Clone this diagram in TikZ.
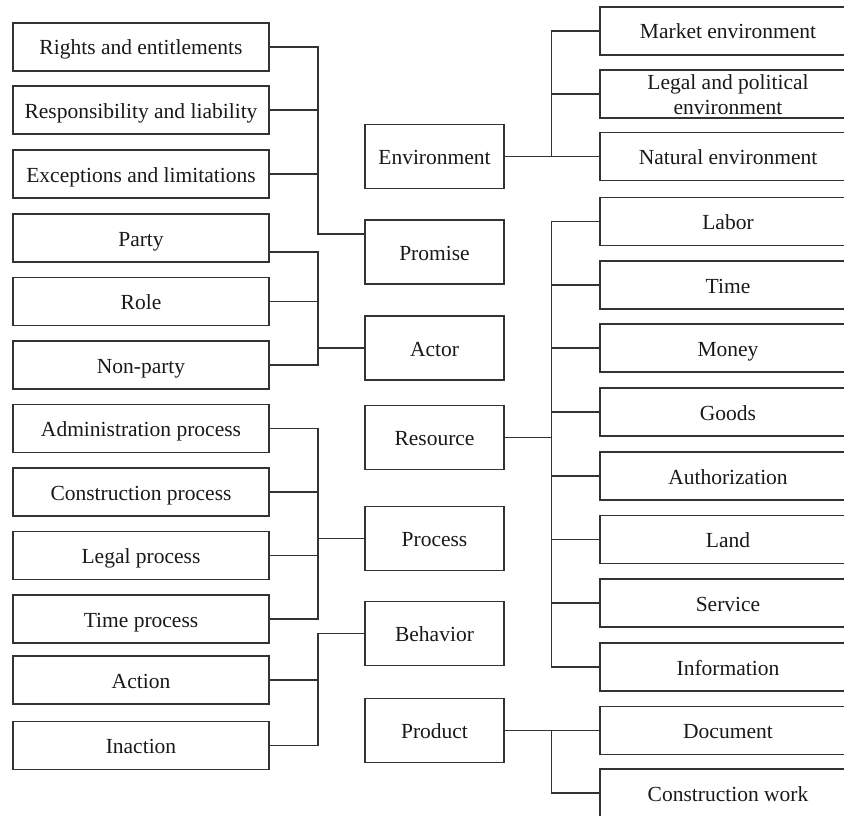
\documentclass[tikz,border=0pt]{standalone}
\usepackage{fontspec}
\setmainfont{Liberation Serif}
\begin{document}
\begin{tikzpicture}[x=1pt,y=-1pt,
  every node/.style={font=\fontsize{21.5}{25}\selectfont, text=black!90},
  boxbase/.style={draw=black!80, line width=1.5pt, inner sep=0pt, align=center, text height=16pt, text depth=0pt},
  lbox/.style={boxbase, minimum width=256pt, minimum height=48pt},
  mbox/.style={boxbase, minimum width=139pt, minimum height=64pt},
  conn/.style={draw=black!80, line width=1.5pt}]
\useasboundingbox (0,0) rectangle (844,816);
\clip (0,0) rectangle (844,816);
% left column
\node[lbox] (rights)   at (141,47)    {Rights and entitlements};
\node[lbox] (resp)     at (141,110)   {Responsibility and liability};
\node[lbox] (exc)      at (141,174)   {Exceptions and limitations};
\node[lbox] (party)    at (141,238)   {Party};
\node[lbox] (role)     at (141,301.5) {Role};
\node[lbox] (nonparty) at (141,365)   {Non-party};
\node[lbox] (admin)    at (141,428.5) {Administration process};
\node[lbox] (constr)   at (141,492)   {Construction process};
\node[lbox] (legal)    at (141,555.5) {Legal process};
\node[lbox] (timep)    at (141,619)   {Time process};
\node[lbox] (action)   at (141,680)   {Action};
\node[lbox] (inaction) at (141,745.5) {Inaction};
% middle column
\node[mbox] (env)      at (434.5,156.5) {Environment};
\node[mbox] (promise)  at (434.5,252)   {Promise};
\node[mbox] (actor)    at (434.5,348)   {Actor};
\node[mbox] (resource) at (434.5,437.5) {Resource};
\node[mbox] (process)  at (434.5,538.5) {Process};
\node[mbox] (behavior) at (434.5,633.5) {Behavior};
\node[mbox] (product)  at (434.5,730.5) {Product};
% right column
\node[lbox] (market)   at (728,31)    {Market environment};
\node[lbox, text height=41pt] (legalpol) at (728,94) {Legal and political\\environment};
\node[lbox] (natural)  at (728,156.5) {Natural environment};
\node[lbox] (labor)    at (728,221.5) {Labor};
\node[lbox] (time)     at (728,285)   {Time};
\node[lbox] (money)    at (728,348)   {Money};
\node[lbox] (goods)    at (728,412)   {Goods};
\node[lbox] (auth)     at (728,476)   {Authorization};
\node[lbox] (land)     at (728,539.5) {Land};
\node[lbox] (service)  at (728,603)   {Service};
\node[lbox] (info)     at (728,667)   {Information};
\node[lbox] (document) at (728,730.5) {Document};
\node[lbox] (cwork)    at (728,793)   {Construction work};
% Promise group
\draw[conn] (rights.east) -- ++(48,0) coordinate (a) |- ([yshift=18pt]promise.west);
\draw[conn] (resp.east) -- ++(48,0);
\draw[conn] (exc.east) -- ++(48,0);
% Actor group
\draw[conn] ([yshift=-14pt]party.east) -- ++(48,0) coordinate (b) |- (nonparty.east);
\draw[conn] (role.east) -- ++(48,0);
\draw[conn] (actor.west) -- (actor.west -| b);
% Process group
\draw[conn] (admin.east) -- ++(48,0) coordinate (c) |- (timep.east);
\draw[conn] (constr.east) -- ++(48,0);
\draw[conn] (legal.east) -- ++(48,0);
\draw[conn] (process.west) -- (process.west -| c);
% Behavior group
\draw[conn] (inaction.east) -- ++(48,0) coordinate (d) |- (behavior.west);
\draw[conn] (action.east) -- ++(48,0);
% Environment group
\draw[conn] (market.west) -- ++(-48,0) coordinate (e) |- (natural.west);
\draw[conn] (legalpol.west) -- ++(-48,0);
\draw[conn] (env.east) -- (env.east -| e);
% Resource group
\draw[conn] (labor.west) -- ++(-48,0) coordinate (f) |- (info.west);
\draw[conn] (time.west) -- ++(-48,0);
\draw[conn] (money.west) -- ++(-48,0);
\draw[conn] (goods.west) -- ++(-48,0);
\draw[conn] (auth.west) -- ++(-48,0);
\draw[conn] (land.west) -- ++(-48,0);
\draw[conn] (service.west) -- ++(-48,0);
\draw[conn] (resource.east) -- (resource.east -| f);
% Product group
\draw[conn] (document.west) -- ++(-48,0) coordinate (g) |- (cwork.west);
\draw[conn] (product.east) -- (product.east -| g);
\end{tikzpicture}
\end{document}
